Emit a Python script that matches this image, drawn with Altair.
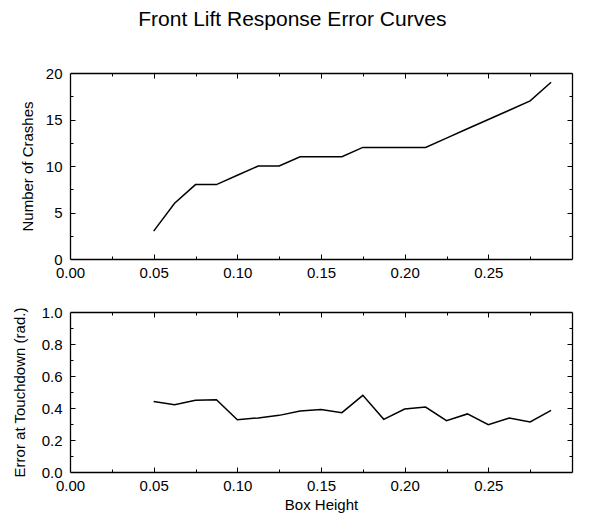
import altair as alt
import pandas as pd

# ---- data ----
box_height = [0.05, 0.0625, 0.075, 0.0875, 0.1, 0.1125, 0.125, 0.1375, 0.15, 0.1625,
              0.175, 0.1875, 0.2, 0.2125, 0.225, 0.2375, 0.25, 0.2625, 0.275, 0.2875]
crashes = [3, 6, 8, 8, 9, 10, 10, 11, 11, 11, 12, 12, 12, 12, 13, 14, 15, 16, 17, 19]
touchdown_error = [0.44, 0.42, 0.448, 0.452, 0.327, 0.338, 0.354, 0.381, 0.39, 0.371,
                   0.479, 0.329, 0.394, 0.406, 0.321, 0.363, 0.296, 0.338, 0.313, 0.385]

x_labels = [0.0, 0.05, 0.10, 0.15, 0.20, 0.25]
x_major = [0.05, 0.10, 0.15, 0.20, 0.25]
x_minor = [0.025, 0.075, 0.125, 0.175, 0.225, 0.275]

top_labels = [0, 5, 10, 15, 20]
top_major = [5, 10, 15]
top_minor = [2.5, 7.5, 12.5, 17.5]

bot_labels = [0.0, 0.2, 0.4, 0.6, 0.8, 1.0]
bot_major = [0.2, 0.4, 0.6, 0.8]
bot_minor = [0.1, 0.3, 0.5, 0.7, 0.9]

df = pd.DataFrame({"h": box_height, "crashes": crashes, "err": touchdown_error})

W = 502
FONT = "Liberation Sans"


def panel(ycol, ytitle, ydomain, ylab, ymaj, ymin, yfmt, height, xtitle, ytitle_pad):
    xs = alt.Scale(domain=[0, 0.30], nice=False, zero=False)
    ys = alt.Scale(domain=ydomain, nice=False, zero=False)
    base = alt.Chart(df)

    xaxis_kw = dict(orient="bottom", values=x_labels, format=".2f", ticks=False, tickSize=0,
                    domain=False, grid=False, labelPadding=6, labelFontSize=15,
                    labelColor="black", labelFont=FONT, labelFlush=False)
    if xtitle:
        xaxis_kw.update(title=xtitle, titleFontSize=15, titleFont=FONT, titleFontWeight="normal",
                        titleColor="black", titlePadding=4)
    else:
        xaxis_kw.update(title=None)

    main = base.mark_line(color="black", strokeWidth=1.5).encode(
        x=alt.X("h:Q", scale=xs, axis=alt.Axis(**xaxis_kw)),
        y=alt.Y(f"{ycol}:Q", scale=ys, axis=alt.Axis(
            orient="left", values=ylab, format=yfmt, ticks=False, tickSize=0, domain=False,
            grid=False, labelPadding=8, labelFontSize=15, labelColor="black", labelFont=FONT,
            labelFlush=False,
            title=ytitle, titleFontSize=15, titleFont=FONT, titleFontWeight="normal",
            titleColor="black", titlePadding=ytitle_pad)),
    )

    def tick_layer(xorient, yorient, xvals, yvals, size, dom):
        return base.mark_line(strokeOpacity=0).encode(
            x=alt.X("h:Q", scale=xs, axis=alt.Axis(
                orient=xorient, offset=-height, values=xvals, labels=False, ticks=True,
                tickSize=size, tickColor="black", tickWidth=1, domain=dom, domainColor="black",
                domainWidth=1.3, grid=False, title=None)),
            y=alt.Y(f"{ycol}:Q", scale=ys, axis=alt.Axis(
                orient=yorient, offset=-W, values=yvals, labels=False, ticks=True,
                tickSize=size, tickColor="black", tickWidth=1, domain=dom, domainColor="black",
                domainWidth=1.3, grid=False, title=None)),
        )

    layers = [
        main,
        tick_layer("top", "right", x_major, ymaj, 5, True),     # bottom & left edges, inward
        tick_layer("bottom", "left", x_major, ymaj, 5, True),   # top & right edges, inward
        tick_layer("top", "right", x_minor, ymin, 3, False),
        tick_layer("bottom", "left", x_minor, ymin, 3, False),
    ]
    return alt.layer(*layers).resolve_axis(x="independent", y="independent").properties(
        width=W, height=height)


top = panel("crashes", "Number of Crashes", [0, 20], top_labels, top_major, top_minor, "d",
            186, None, 10)
bottom = panel("err", "Error at Touchdown (rad.)", [0, 1], bot_labels, bot_major, bot_minor,
               ".1f", 160, "Box Height", 14)

chart = alt.vconcat(top, bottom, spacing=23).properties(
    title=alt.TitleParams("Front Lift Response Error Curves", fontSize=21, font=FONT,
                          fontWeight="normal", color="black", anchor="middle", offset=36),
    padding={"left": 11, "top": 8, "right": 5, "bottom": 5},
).configure_view(stroke=None).configure(background="white")

chart.save("out.html", embed_options={"renderer": "svg", "actions": False})
